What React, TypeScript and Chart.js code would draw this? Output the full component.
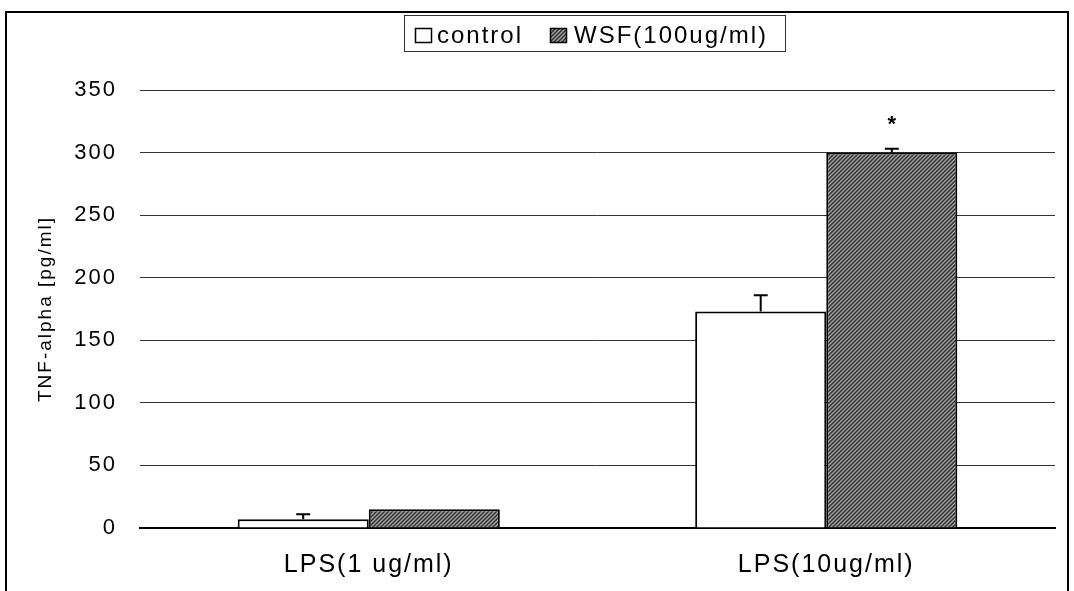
import React, { useEffect, useRef } from "react";
import { Chart, registerables } from "chart.js";

Chart.register(...registerables);

const categories = ["LPS(1 ug/ml)", "LPS(10ug/ml)"];
const seriesNames = ["control", "WSF(100ug/ml)"];
const controlValues = [7, 173];
const controlErrors = [4, 13];
const wsfValues = [15, 300];
const wsfErrors = [0, 3];
const wsfMarks = ["", "*"];
const yMin = 0;
const yMax = 350;
const yStep = 50;
const yTitle = "TNF-alpha [pg/ml]";

function makeHatch(): CanvasPattern | string {
  const c = document.createElement("canvas");
  c.width = 4;
  c.height = 4;
  const g = c.getContext("2d");
  if (!g) return "#888";
  g.fillStyle = "#a2a2a2";
  g.fillRect(0, 0, 4, 4);
  g.strokeStyle = "#2e2e2e";
  g.lineWidth = 1.4;
  g.beginPath();
  g.moveTo(0, 4);
  g.lineTo(4, 0);
  g.moveTo(-2, 2);
  g.lineTo(2, -2);
  g.moveTo(2, 6);
  g.lineTo(6, 2);
  g.stroke();
  return g.createPattern(c, "repeat") || "#888";
}

const FONT = "'Liberation Sans', Arial, sans-serif";

export default function App() {
  const ref = useRef<HTMLCanvasElement | null>(null);

  useEffect(() => {
    if (!ref.current) return;
    const hatch = makeHatch();
    const errors = [controlErrors, wsfErrors];
    const marks = [null, wsfMarks];

    const decor = {
      id: "decor",
      beforeDraw(chart: any) {
        (chart.ctx as any).letterSpacing = "2px";
      },
      afterDatasetsDraw(chart: any) {
        const ctx = chart.ctx;
        const yScale = chart.scales.y;
        ctx.save();
        ctx.strokeStyle = "#000";
        ctx.lineWidth = 2;
        chart.data.datasets.forEach((ds: any, di: number) => {
          const meta = chart.getDatasetMeta(di);
          meta.data.forEach((bar: any, i: number) => {
            const err = errors[di][i];
            const v = ds.data[i];
            if (err > 0) {
              const yTop = yScale.getPixelForValue(v + err);
              ctx.beginPath();
              ctx.moveTo(bar.x, bar.y);
              ctx.lineTo(bar.x, yTop);
              ctx.moveTo(bar.x - 7, yTop);
              ctx.lineTo(bar.x + 7, yTop);
              ctx.stroke();
            }
            const m = marks[di];
            if (m && m[i]) {
              ctx.fillStyle = "#000";
              ctx.font = `bold 22px ${FONT}`;
              (ctx as any).letterSpacing = "0px";
              ctx.textAlign = "center";
              ctx.textBaseline = "middle";
              ctx.fillText(m[i], bar.x, yScale.getPixelForValue(v + err) - 24);
            }
          });
        });
        ctx.restore();
      },
      afterDraw(chart: any) {
        const ctx = chart.ctx;
        ctx.save();
        // outer frame
        ctx.strokeStyle = "#000";
        ctx.lineWidth = 2;
        ctx.strokeRect(6, 12, 1062, 600);
        // legend box
        ctx.fillStyle = "#fff";
        ctx.fillRect(404, 15, 381, 36);
        ctx.lineWidth = 1;
        ctx.strokeStyle = "#333";
        ctx.strokeRect(404.5, 15.5, 381, 36);
        const items = [
          { x: 415, tx: 437, fill: "#fff" as any },
          { x: 550, tx: 574, fill: hatch },
        ];
        ctx.font = `24px ${FONT}`;
        (ctx as any).letterSpacing = "2px";
        ctx.textBaseline = "middle";
        ctx.textAlign = "left";
        items.forEach((it, i) => {
          ctx.fillStyle = it.fill;
          ctx.fillRect(it.x, 28, 17, 15);
          ctx.strokeStyle = "#000";
          ctx.lineWidth = 1.5;
          ctx.strokeRect(it.x + 0.5, 28.5, 16, 14);
          ctx.fillStyle = "#000";
          ctx.fillText(seriesNames[i], it.tx, 36);
        });
        ctx.restore();
      },
    };

    const chart = new Chart(ref.current, {
      type: "bar",
      data: {
        labels: categories,
        datasets: [
          {
            label: seriesNames[0],
            data: controlValues,
            backgroundColor: "#ffffff",
            borderColor: "#000",
            borderWidth: 2,
            categoryPercentage: 0.573,
            barPercentage: 1,
          },
          {
            label: seriesNames[1],
            data: wsfValues,
            backgroundColor: hatch as any,
            borderColor: "#000",
            borderWidth: 2,
            categoryPercentage: 0.573,
            barPercentage: 1,
          },
        ],
      },
      options: {
        animation: false,
        responsive: true,
        maintainAspectRatio: false,
        layout: { padding: { left: 0, top: 90, right: 19, bottom: 0 } },
        plugins: { legend: { display: false }, tooltip: { enabled: false } },
        scales: {
          x: {
            grid: { display: false, drawTicks: false },
            border: { display: true, color: "#000", width: 2 },
            ticks: { color: "#000", font: { family: FONT, size: 25 }, padding: 22 },
            afterFit(scale: any) {
              scale.height = 63;
            },
          },
          y: {
            min: yMin,
            max: yMax,
            ticks: {
              stepSize: yStep,
              color: "#000",
              font: { family: FONT, size: 22 },
              padding: 23,
            },
            grid: { color: "#333", lineWidth: 1, drawTicks: false },
            border: { display: false },
            title: {
              display: true,
              text: yTitle,
              color: "#000",
              font: { family: FONT, size: 19 },
              padding: { top: 34, bottom: 0 },
            },
            afterFit(scale: any) {
              scale.width = 140;
            },
          },
        },
      },
      plugins: [decor],
    });
    return () => chart.destroy();
  }, []);

  return (
    <div style={{ position: "absolute", left: 0, top: 0, width: 1074, height: 591, background: "#fff" }}>
      <canvas ref={ref} />
    </div>
  );
}
